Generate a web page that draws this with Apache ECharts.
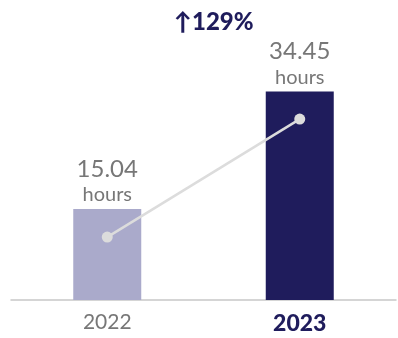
<!DOCTYPE html>
<html lang="en">
<head>
    <meta charset="UTF-8">
    <title>hours</title>
    <script src="https://cdn.jsdelivr.net/npm/echarts@6/dist/echarts.min.js"></script>
    <style>
        html, body { margin: 0; padding: 0; background: #fff; }
        #chart { width: 398px; height: 338px; }
    </style>
</head>
<body>
<div id="chart"></div>
<script type="text/javascript">
    // data
    var years = ['2022', '2023'];
    var hours = [15.04, 34.45];
    var trend = [10.4, 29.9];
    var changeText = '↑129%';

    var barColors = ['#aaaacb', '#1f1c5c'];

    var myChart = echarts.init(document.getElementById('chart'));

    myChart.setOption({
        backgroundColor: '#fff',
        animation: false,
        textStyle: { fontFamily: 'Lato' },
        title: {
            text: changeText,
            left: 169,
            top: 5,
            textStyle: {
                fontFamily: 'Lato',
                fontWeight: 900,
                fontSize: 24,
                color: '#1f1c5c'
            }
        },
        grid: { left: 11, right: 2, top: 58, bottom: 38 },
        xAxis: {
            type: 'category',
            data: years,
            axisLine: { lineStyle: { color: '#c8c8c8', width: 1.5 } },
            axisTick: { show: false },
            axisLabel: {
                margin: 12,
                formatter: function (v, i) {
                    return i === years.length - 1 ? '{b|' + v + '}' : '{a|' + v + '}';
                },
                rich: {
                    a: { fontFamily: 'Lato', fontSize: 21, color: '#777' },
                    b: { fontFamily: 'Lato', fontSize: 23, fontWeight: 900, color: '#1f1c5c' }
                }
            }
        },
        yAxis: {
            type: 'value',
            min: 0,
            max: 40,
            show: false,
            splitLine: { show: false }
        },
        series: [
            {
                type: 'bar',
                barWidth: 68,
                data: hours.map(function (v, i) {
                    return { value: v, itemStyle: { color: barColors[i] } };
                }),
                label: {
                    show: true,
                    position: 'top',
                    distance: 2,
                    formatter: function (p) {
                        return '{v|' + p.value.toFixed(2) + '}\n{h|hours}';
                    },
                    rich: {
                        v: { fontFamily: 'Lato', fontSize: 24, color: '#777', lineHeight: 28, align: 'center' },
                        h: { fontFamily: 'Lato', fontSize: 20, color: '#777', lineHeight: 24, align: 'center' }
                    }
                }
            },
            {
                type: 'line',
                data: trend,
                symbol: 'circle',
                symbolSize: 11,
                itemStyle: { color: '#dcdcdc' },
                lineStyle: { color: '#dcdcdc', width: 2.5 },
                z: 5
            }
        ]
    });
</script>
</body>
</html>
